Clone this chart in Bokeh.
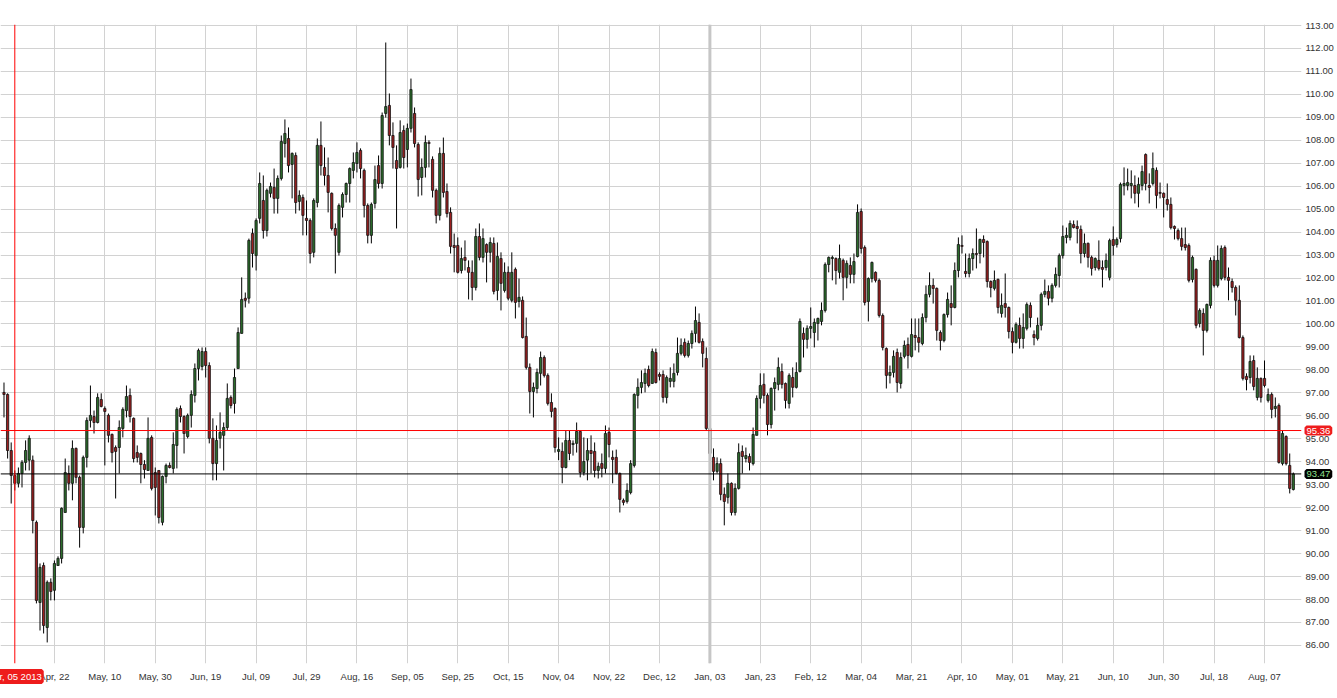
from bokeh.plotting import figure
from bokeh.models import ColumnDataSource, Range1d, FixedTicker, PrintfTickFormatter, Span, Label
from bokeh.embed import file_html
from bokeh.resources import INLINE

# ---- data (daily OHLC, one bar per trading day) ----
opens = [
 97.02, 96.93, 94.49, 93.40, 93.06, 93.49, 93.97, 94.07, 94.07, 91.36,
 87.87, 89.48, 86.78, 88.75, 88.40, 89.48, 89.79, 91.79, 93.49, 93.06,
 94.58, 93.32, 91.14, 94.19, 95.80, 95.97, 95.71, 96.71, 96.32, 96.02,
 95.19, 94.62, 94.62, 95.45, 96.23, 96.89, 95.89, 94.40, 94.36, 93.88,
 93.62, 95.06, 93.53, 93.62, 91.36, 93.36, 93.84, 93.71, 94.71, 96.32,
 95.97, 95.10, 96.02, 96.89, 98.06, 98.15, 98.80, 98.19, 95.02, 93.92,
 95.02, 95.15, 95.49, 96.80, 96.54, 98.06, 99.59, 101.12, 101.12, 103.94,
 102.98, 104.60, 105.38, 104.07, 105.69, 105.95, 105.47, 106.34, 107.86, 108.08,
 106.95, 107.34, 105.34, 105.51, 104.60, 104.51, 103.12, 105.29, 107.78, 106.82,
 106.47, 105.69, 104.16, 103.12, 105.08, 105.64, 106.12, 106.69, 106.99, 107.56,
 106.69, 105.16, 103.86, 105.25, 106.90, 106.12, 109.17, 109.52, 108.21, 107.12,
 106.82, 108.43, 107.60, 108.52, 109.17, 107.82, 106.38, 106.82, 107.91, 107.17,
 105.82, 104.73, 107.43, 105.77, 104.86, 103.42, 103.42, 102.33, 102.90, 102.46,
 102.25, 101.59, 103.81, 102.90, 103.46, 103.12, 103.51, 101.46, 102.85, 101.46,
 102.25, 101.03, 102.38, 100.98, 101.03, 99.46, 98.11, 97.06, 97.19, 97.85,
 98.54, 97.76, 96.58, 96.32, 94.45, 94.45, 93.75, 94.93, 94.75, 94.80,
 95.32, 93.53, 94.07, 94.49, 94.45, 93.62, 93.92, 93.71, 95.28, 94.19,
 94.19, 93.49, 92.32, 92.27, 92.66, 93.84, 96.89, 97.24, 97.41, 98.02,
 97.41, 98.76, 97.80, 97.80, 96.80, 97.50, 97.50, 97.89, 98.72, 99.20,
 98.63, 99.15, 99.59, 100.07, 99.24, 98.50, 95.45, 94.19, 93.58, 93.92,
 92.58, 92.45, 93.06, 91.79, 92.84, 94.45, 94.14, 94.23, 93.92, 95.15,
 96.76, 97.37, 96.89, 95.62, 97.19, 97.37, 97.93, 97.41, 96.54, 97.67,
 97.24, 97.93, 99.59, 99.33, 99.81, 99.63, 100.02, 100.11, 100.59, 102.59,
 102.85, 102.85, 102.25, 102.77, 102.03, 102.55, 102.16, 102.94, 104.90, 103.33,
 100.98, 101.98, 102.25, 101.90, 100.37, 98.93, 97.76, 97.89, 98.76, 97.41,
 98.59, 99.11, 98.59, 99.50, 99.41, 99.15, 100.28, 101.29, 101.68, 101.55,
 99.63, 99.28, 100.41, 100.89, 100.72, 102.33, 103.42, 102.29, 102.20, 102.85,
 103.07, 103.07, 103.68, 103.59, 101.85, 101.55, 101.94, 100.46, 100.89, 100.72,
 99.67, 99.20, 99.94, 99.37, 99.81, 100.81, 99.54, 99.37, 99.94, 101.29,
 101.42, 101.12, 101.68, 102.11, 102.98, 103.77, 103.77, 104.33, 104.25, 104.12,
 103.07, 103.51, 102.90, 102.46, 102.77, 102.46, 102.46, 102.03, 103.68, 103.46,
 103.72, 106.03, 106.03, 106.03, 106.03, 105.69, 106.03, 107.38, 106.03, 106.12,
 106.69, 105.73, 105.69, 105.42, 105.21, 104.25, 104.07, 103.72, 103.46, 103.42,
 101.94, 102.38, 100.02, 100.46, 99.72, 100.81, 102.77, 101.68, 101.98, 103.33,
 102.03, 101.85, 101.59, 101.03, 99.41, 97.72, 97.67, 98.41, 96.80, 97.63,
 97.63, 96.67, 96.93, 96.32, 96.45, 93.92, 95.10, 93.84, 92.79,
]
highs = [
 97.45, 96.98, 94.84, 93.62, 93.75, 94.07, 94.93, 95.15, 94.27, 91.44,
 89.57, 89.61, 88.83, 88.92, 89.70, 89.88, 92.01, 94.14, 93.84, 94.93,
 94.62, 93.40, 94.27, 95.93, 97.32, 96.23, 96.98, 96.98, 96.41, 96.10,
 95.23, 94.71, 95.80, 96.37, 97.32, 97.19, 95.93, 94.71, 94.40, 94.07,
 95.93, 95.15, 93.75, 93.62, 93.40, 93.92, 93.97, 95.28, 96.37, 96.45,
 96.02, 96.10, 97.11, 98.28, 98.93, 98.98, 98.98, 98.33, 95.89, 95.58,
 96.15, 95.71, 97.41, 96.89, 98.06, 99.85, 102.03, 101.37, 103.72, 104.16,
 104.60, 106.60, 106.47, 105.90, 106.16, 106.77, 106.47, 108.21, 108.91, 108.56,
 107.47, 107.47, 105.82, 105.64, 105.38, 104.60, 105.47, 108.08, 108.82, 107.69,
 107.25, 105.73, 104.38, 105.25, 105.73, 106.16, 106.82, 107.47, 107.91, 107.65,
 106.77, 105.25, 105.29, 106.90, 107.34, 109.21, 112.26, 110.04, 108.78, 107.78,
 108.87, 108.65, 108.73, 110.69, 109.43, 107.91, 107.21, 108.21, 108.00, 107.30,
 105.90, 107.69, 108.12, 106.12, 105.08, 103.94, 103.77, 103.33, 103.64, 102.77,
 102.77, 104.16, 104.38, 104.16, 103.51, 103.77, 103.77, 103.55, 103.12, 102.68,
 102.51, 103.12, 102.46, 101.98, 101.20, 100.28, 98.28, 97.45, 98.06, 98.80,
 98.63, 97.85, 96.98, 96.37, 95.06, 94.84, 95.36, 95.36, 94.93, 95.71,
 95.36, 95.06, 95.02, 95.15, 94.84, 93.97, 94.36, 95.58, 95.49, 94.49,
 94.53, 93.53, 92.40, 93.06, 94.07, 96.98, 97.63, 97.98, 98.06, 98.19,
 98.93, 98.93, 97.89, 97.98, 97.76, 98.11, 98.28, 99.41, 99.37, 99.37,
 99.28, 99.72, 100.76, 100.46, 99.37, 98.98, 95.71, 94.58, 94.19, 94.14,
 92.88, 93.49, 93.10, 93.06, 94.80, 94.71, 94.62, 94.36, 95.49, 96.89,
 97.85, 97.85, 96.98, 97.24, 97.67, 98.54, 98.28, 97.45, 97.85, 98.11,
 98.33, 100.24, 99.85, 99.94, 100.72, 100.24, 100.28, 100.94, 102.68, 102.94,
 102.98, 102.90, 103.46, 102.85, 102.77, 102.90, 103.07, 105.21, 105.03, 103.42,
 102.03, 102.72, 102.29, 101.98, 100.46, 98.98, 98.19, 98.85, 98.93, 98.76,
 99.28, 99.41, 100.24, 100.24, 100.24, 100.46, 101.68, 102.25, 101.98, 101.59,
 99.72, 100.46, 101.37, 101.68, 102.68, 103.77, 103.86, 103.07, 103.07, 103.29,
 104.16, 103.72, 103.86, 103.64, 101.90, 102.33, 101.98, 101.33, 102.20, 100.76,
 99.85, 100.07, 100.28, 100.46, 100.94, 100.94, 99.72, 100.28, 101.37, 101.94,
 101.68, 101.77, 102.46, 103.07, 104.29, 104.20, 104.51, 104.51, 104.51, 104.29,
 103.94, 103.55, 102.98, 102.90, 103.64, 102.77, 103.07, 103.72, 104.25, 103.77,
 106.16, 106.82, 106.77, 106.69, 106.47, 106.38, 106.90, 107.43, 106.56, 107.47,
 106.82, 106.16, 105.73, 106.12, 105.51, 104.29, 104.16, 104.20, 104.20, 103.51,
 102.98, 102.42, 100.68, 100.68, 100.89, 102.90, 102.98, 103.42, 103.42, 103.42,
 102.46, 101.98, 101.68, 101.68, 99.50, 97.85, 98.63, 98.63, 98.11, 97.67,
 98.41, 97.19, 97.02, 96.80, 96.54, 95.36, 95.15, 94.36, 93.53,
]
lows = [
 95.93, 94.14, 92.18, 92.75, 92.88, 92.88, 93.62, 93.62, 90.88, 87.83,
 86.65, 86.52, 86.13, 87.96, 87.96, 89.48, 89.57, 91.79, 92.75, 92.32,
 93.06, 90.26, 90.88, 93.75, 95.49, 95.23, 95.67, 96.37, 93.84, 94.84,
 93.97, 92.40, 93.49, 95.06, 95.93, 95.71, 93.97, 93.97, 93.06, 93.27,
 93.62, 92.75, 91.66, 91.31, 91.23, 93.06, 93.71, 93.49, 93.71, 95.71,
 94.36, 95.02, 95.49, 96.58, 97.54, 97.98, 97.67, 94.80, 93.19, 93.19,
 94.58, 93.62, 95.36, 96.32, 96.10, 98.06, 99.59, 100.72, 100.89, 102.46,
 102.33, 104.38, 103.72, 103.81, 105.51, 104.81, 104.81, 106.25, 107.25, 106.60,
 105.47, 104.81, 104.94, 103.86, 103.86, 102.64, 102.90, 105.08, 106.47, 106.03,
 104.86, 104.07, 102.20, 102.98, 104.64, 105.29, 105.29, 106.34, 106.60, 106.34,
 104.64, 103.51, 103.51, 105.03, 105.90, 105.90, 108.99, 107.78, 106.77, 104.16,
 106.77, 106.77, 106.82, 108.34, 107.69, 105.55, 105.60, 106.38, 106.82, 105.51,
 104.38, 104.51, 105.51, 104.64, 103.07, 102.25, 102.20, 102.20, 102.33, 101.07,
 101.03, 101.46, 102.77, 102.68, 101.81, 102.68, 101.29, 101.03, 100.59, 101.37,
 101.03, 100.94, 100.24, 100.72, 99.37, 98.02, 96.10, 95.93, 96.98, 97.32,
 97.67, 96.45, 95.93, 94.40, 94.07, 93.06, 93.71, 94.07, 94.27, 94.40,
 93.32, 93.40, 93.19, 93.49, 93.32, 93.27, 93.32, 93.49, 94.19, 93.06,
 93.45, 91.79, 92.10, 92.18, 92.58, 93.75, 96.32, 96.98, 97.02, 97.24,
 97.41, 97.41, 97.54, 96.58, 96.54, 97.24, 97.24, 97.76, 98.63, 98.54,
 98.54, 98.93, 99.20, 99.15, 98.11, 95.36, 94.27, 93.19, 93.49, 92.32,
 91.23, 92.18, 91.66, 91.66, 92.79, 93.49, 93.97, 93.62, 93.84, 95.15,
 96.32, 96.54, 95.15, 95.45, 96.23, 97.11, 97.19, 96.32, 96.32, 96.80,
 97.19, 97.89, 98.54, 98.93, 99.37, 98.98, 99.28, 99.94, 100.50, 102.25,
 101.90, 101.72, 101.98, 101.03, 101.55, 101.77, 101.77, 102.90, 103.07, 100.81,
 100.11, 101.81, 101.81, 100.28, 98.85, 97.19, 97.41, 97.67, 97.02, 97.19,
 98.50, 98.06, 98.54, 98.85, 98.76, 99.07, 100.07, 101.16, 100.89, 99.28,
 98.85, 99.20, 100.28, 99.94, 100.68, 102.03, 103.07, 102.03, 102.03, 102.33,
 102.42, 102.64, 102.90, 101.59, 101.16, 101.46, 100.46, 100.28, 100.28, 99.37,
 98.72, 99.15, 98.93, 98.93, 99.72, 99.85, 99.07, 99.28, 99.72, 101.16,
 100.81, 100.94, 101.59, 101.59, 102.85, 103.51, 103.64, 104.16, 103.51, 102.64,
 102.90, 102.46, 102.11, 102.33, 102.33, 101.59, 102.33, 101.90, 102.98, 103.33,
 103.55, 105.60, 105.82, 105.47, 105.25, 105.08, 105.82, 105.82, 105.25, 106.03,
 105.03, 105.47, 104.64, 104.94, 104.12, 103.68, 103.64, 103.20, 103.20, 101.81,
 101.81, 99.81, 99.85, 98.63, 99.63, 100.68, 101.59, 101.59, 101.90, 101.90,
 101.03, 101.37, 100.37, 99.37, 97.54, 97.11, 97.41, 97.11, 96.67, 96.58,
 97.24, 96.58, 95.89, 95.93, 93.92, 93.84, 93.84, 92.62, 92.75,
]
closes = [
 96.93, 94.49, 93.40, 93.06, 93.49, 93.97, 94.49, 95.02, 91.44, 87.96,
 89.40, 86.87, 88.75, 88.35, 89.57, 89.79, 91.97, 93.53, 93.06, 94.58,
 93.32, 91.14, 94.19, 95.80, 96.02, 95.71, 96.80, 96.41, 96.19, 95.15,
 94.40, 94.45, 95.49, 96.28, 96.84, 95.97, 94.14, 94.19, 93.88, 93.66,
 95.02, 92.84, 92.88, 91.57, 93.36, 93.84, 93.75, 94.75, 96.28, 95.97,
 95.23, 96.02, 96.93, 98.06, 98.85, 98.80, 98.19, 95.02, 93.92, 94.93,
 95.28, 95.49, 96.76, 96.45, 97.67, 99.63, 101.07, 101.03, 103.64, 103.07,
 104.51, 106.12, 104.07, 105.82, 105.99, 105.47, 106.34, 107.95, 108.30, 106.90,
 107.43, 105.29, 105.60, 104.73, 104.51, 103.07, 105.38, 107.78, 106.90, 106.47,
 105.73, 104.16, 103.86, 105.16, 105.64, 106.12, 106.77, 107.03, 107.47, 106.77,
 105.16, 103.86, 105.21, 106.29, 106.12, 109.08, 109.47, 108.21, 107.69, 106.77,
 108.34, 107.25, 108.52, 110.21, 107.86, 106.29, 106.82, 107.91, 107.86, 105.82,
 104.73, 107.43, 105.73, 104.81, 103.38, 103.33, 102.25, 102.85, 102.77, 102.25,
 101.59, 103.81, 102.90, 103.72, 103.12, 103.55, 101.42, 102.94, 101.77, 102.25,
 101.12, 102.25, 100.94, 101.16, 99.41, 98.11, 97.06, 97.24, 97.89, 98.54,
 97.76, 96.54, 96.19, 94.62, 94.53, 93.75, 94.93, 94.36, 94.80, 95.32,
 93.53, 94.01, 94.49, 94.36, 93.62, 93.80, 93.71, 95.23, 94.75, 94.10,
 93.49, 92.36, 92.23, 92.75, 93.92, 96.93, 97.24, 97.45, 97.85, 97.32,
 98.80, 97.45, 97.72, 96.80, 97.67, 97.63, 97.85, 98.72, 99.07, 98.63,
 99.15, 99.59, 100.15, 99.20, 98.72, 95.45, 94.36, 93.58, 93.92, 92.58,
 92.27, 93.06, 91.79, 92.84, 94.40, 94.23, 94.27, 93.97, 95.19, 96.76,
 97.32, 96.89, 95.62, 97.19, 97.45, 98.11, 97.37, 96.67, 97.76, 97.24,
 97.89, 100.11, 99.33, 99.81, 99.89, 100.07, 100.24, 100.59, 102.59, 102.90,
 102.90, 102.33, 102.85, 102.03, 102.64, 102.16, 102.72, 104.86, 103.29, 100.94,
 101.98, 102.68, 101.90, 100.37, 98.98, 97.76, 97.89, 98.59, 97.45, 98.54,
 99.07, 98.63, 99.54, 99.41, 99.20, 100.28, 101.29, 101.68, 101.55, 99.72,
 99.28, 100.41, 101.07, 100.72, 102.33, 103.46, 103.38, 102.20, 102.85, 103.07,
 103.03, 103.68, 103.55, 101.85, 101.59, 101.90, 100.72, 100.81, 100.72, 99.67,
 99.20, 99.98, 99.37, 99.85, 100.85, 100.28, 99.41, 99.94, 101.29, 101.42,
 101.12, 101.68, 102.16, 102.98, 103.81, 103.86, 104.38, 104.20, 104.16, 103.07,
 103.51, 102.90, 102.42, 102.85, 102.42, 102.38, 102.77, 103.64, 103.42, 103.68,
 106.08, 106.12, 106.16, 106.12, 105.69, 106.08, 106.64, 106.12, 105.95, 106.77,
 105.60, 105.69, 105.51, 105.21, 104.20, 104.16, 103.72, 103.38, 103.33, 101.90,
 102.90, 99.94, 100.59, 99.72, 100.85, 102.77, 101.68, 102.77, 103.29, 102.03,
 101.90, 101.59, 101.03, 99.41, 97.63, 97.58, 98.37, 97.28, 97.63, 96.80,
 97.32, 96.93, 96.28, 96.41, 93.97, 95.23, 93.92, 92.84, 93.47,
]

date_labels = ["Apr, 22", "May, 10", "May, 30", "Jun, 19", "Jul, 09", "Jul, 29",
               "Aug, 16", "Sep, 05", "Sep, 25", "Oct, 15", "Nov, 04", "Nov, 22",
               "Dec, 12", "Jan, 03", "Jan, 23", "Feb, 12", "Mar, 04", "Mar, 21",
               "Apr, 10", "May, 01", "May, 21", "Jun, 10", "Jun, 30", "Jul, 18",
               "Aug, 07"]
first_label_bar = 14
bars_per_label = 14
price_ticks = list(range(86, 114))
cursor_price = 95.36
last_price = 93.47
cursor_bar = 3
cursor_date = "Apr, 05 2013"
year_start_label = "Jan, 03"

# ---- styling ----
UP_FILL = "#2b6d2b"
DOWN_FILL = "#9c1f1f"
GRID = "#d2d2d2"
BADGE_RED = "#ee1c1c"
FONT = "Liberation Sans"

n = len(closes)
xs = list(range(n))
src = ColumnDataSource(dict(
    x=xs, o=opens, h=highs, l=lows, c=closes,
    top=[max(a, b) for a, b in zip(opens, closes)],
    bottom=[min(a, b) for a, b in zip(opens, closes)],
    fill=[UP_FILL if c >= o else DOWN_FILL for o, c in zip(opens, closes)],
))

label_bars = [first_label_bar + k * bars_per_label for k in range(len(date_labels))]

W, H = 1337, 698
TOP = 24          # room reserved above the frame for the two price badges
x_lo, x_hi = -0.97, 360.27
y_lo, y_hi = 85.213, 113.044

p = figure(width=W, height=H, output_backend="svg", toolbar_location=None,
           x_range=Range1d(x_lo, x_hi), y_range=Range1d(y_lo, y_hi),
           y_axis_location="right",
           min_border_left=0, min_border_top=TOP, min_border_right=34, min_border_bottom=35)
p.background_fill_color = "white"
p.border_fill_color = "white"
p.outline_line_color = None

# axes
p.xaxis.ticker = FixedTicker(ticks=label_bars)
p.xaxis.major_label_overrides = {b: t for b, t in zip(label_bars, date_labels)}
p.yaxis.ticker = FixedTicker(ticks=price_ticks)
p.yaxis.formatter = PrintfTickFormatter(format="%.2f")
for ax in (p.xaxis[0], p.yaxis[0]):
    ax.axis_line_color = None
    ax.major_tick_line_color = None
    ax.minor_tick_line_color = None
    ax.major_tick_out = 0
    ax.major_tick_in = 0
    ax.minor_tick_out = 0
    ax.major_label_text_font = FONT
    ax.major_label_text_font_size = "9.5px"
    ax.major_label_text_color = "#333333"
p.xaxis.major_label_standoff = 7
p.yaxis.major_label_standoff = 4

p.xgrid.ticker = FixedTicker(ticks=label_bars)
p.ygrid.ticker = FixedTicker(ticks=price_ticks)
p.xgrid.grid_line_color = GRID
p.ygrid.grid_line_color = GRID

# year separator
year_bar = label_bars[date_labels.index(year_start_label)]
p.add_layout(Span(location=year_bar, dimension="height", line_color="#c6c6c6", line_width=3))

# candles
p.segment(x0="x", y0="h", x1="x", y1="l", source=src, line_color="black", line_width=1)
p.vbar(x="x", top="top", bottom="bottom", width=0.62, source=src,
       fill_color="fill", line_color="#111111", line_width=0.8)

# cursor and last-price lines
p.add_layout(Span(location=cursor_price, dimension="width", line_color="#ff0000", line_width=1))
p.add_layout(Span(location=last_price, dimension="width", line_color="black", line_width=1))
p.add_layout(Span(location=cursor_bar, dimension="height", line_color="#ff0000", line_width=1))

# badges: side-panel labels are drawn unclipped at their data position
badge_style = dict(text_baseline="middle", text_font=FONT, padding=0, border_line_width=4)
p.add_layout(Label(x=x_hi, y=cursor_price, x_offset=5, text=f"{cursor_price:.2f}",
                   text_align="left", text_color="white", text_font_size="9.5px",
                   background_fill_color=BADGE_RED, border_line_color=BADGE_RED,
                   **badge_style), "above")
p.add_layout(Label(x=x_hi, y=last_price, x_offset=5, text=f"{last_price:.2f}",
                   text_align="left", text_color="#8fe08f", text_font_size="9.5px",
                   background_fill_color="black", border_line_color="black",
                   **badge_style), "above")
p.add_layout(Label(x=cursor_bar, y=y_lo - 0.57, text=cursor_date,
                   text_align="center", text_color="white", text_font_size="9.5px",
                   background_fill_color=BADGE_RED, border_line_color=BADGE_RED,
                   **badge_style), "below")

open("out.html", "w").write(file_html(p, INLINE))
